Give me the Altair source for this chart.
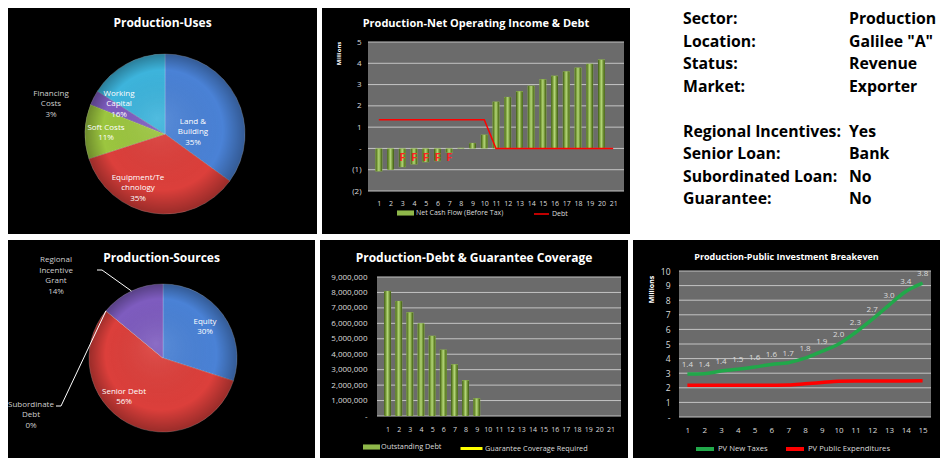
import math
import altair as alt
import pandas as pd

FONT = "Open Sans"
WHITE = "#ffffff"
PANEL = "#000000"
PLOT = "#6b6b6b"
GRID = "#c4c4c4"
TXT = "#dcdcdc"
GREEN_SOLID = "#8fb84a"

# ---------------- data ----------------
uses_names = ["Land & Building", "Equipment/Technology", "Soft Costs", "Financing Costs", "Working Capital"]
uses_labels = ["Land &\nBuilding", "Equipment/Te\nchnology", "Soft Costs", "Financing\nCosts", "Working\nCapital"]
uses_pct = [35, 35, 11, 3, 16]
uses_colors = ["#4a82d6", "#dc3f3b", "#9cc63f", "#7e5cbf", "#3db4dc"]

sources_names = ["Equity", "Senior Debt", "Subordinate Debt", "Regional Incentive Grant"]
sources_labels = ["Equity", "Senior Debt", "Subordinate\nDebt", "Regional\nIncentive\nGrant"]
sources_pct = [30, 56, 0, 14]
sources_colors = ["#4a82d6", "#dc3f3b", "#9cc63f", "#7e5cbf"]

years21 = list(range(1, 22))
net_cash_flow = [-1.08, -1.0, -0.88, -0.75, -0.65, -0.6, -0.2, 0.03, 0.26, 0.65,
                 2.2, 2.42, 2.69, 2.95, 3.25, 3.42, 3.62, 3.8, 3.98, 4.18, None]
debt_line = [1.35, 1.35, 1.35, 1.35, 1.35, 1.35, 1.35, 1.35, 1.35, 1.35,
             0, 0, 0, 0, 0, 0, 0, 0, 0, 0, 0]
cash_flow_flags = ["", "", "F", "F", "F", "F", "F", "", "", "", "",
                   "", "", "", "", "", "", "", "", "", ""]
ncf_ticks = [-2, -1, 0, 1, 2, 3, 4, 5]

outstanding_debt = [8100000, 7450000, 6720000, 6000000, 5200000, 4300000, 3350000, 2320000, 1150000,
                    0, 0, 0, 0, 0, 0, 0, 0, 0, 0, 0, 0]
guarantee_coverage = [None, None, None, None, None, None, None, None, None, None, None,
                      None, None, None, None, None, None, None, None, None, None]
debt_ticks = [0, 1000000, 2000000, 3000000, 4000000, 5000000, 6000000, 7000000, 8000000, 9000000]

years15 = list(range(1, 16))
pv_new_taxes = [2.95, 2.97, 3.15, 3.27, 3.42, 3.6, 3.72, 4.03, 4.5, 5.0, 5.79, 6.69, 7.66, 8.6, 9.17]
pv_public_exp = [2.17, 2.17, 2.17, 2.17, 2.17, 2.18, 2.19, 2.27, 2.36, 2.45, 2.47, 2.47, 2.47, 2.47, 2.48]
breakeven_labels = ["1.4", "1.4", "1.4", "1.5", "1.6", "1.6", "1.7", "1.8", "1.9", "2.0",
                    "2.3", "2.7", "3.0", "3.4", "3.8"]
breakeven_ticks = [0, 1, 2, 3, 4, 5, 6, 7, 8, 9, 10]

info_keys = ["Sector:", "Location:", "Status:", "Market:", "",
             "Regional Incentives:", "Senior Loan:", "Subordinated Loan:", "Guarantee:"]
info_values = ["Production", 'Galilee "A"', "Revenue", "Exporter", "",
               "Yes", "Bank", "No", "No"]

# ---------------- layout ----------------
H1, H2 = 226, 218
W_TL, W_TM, W_TR = 309, 308, 305
W_BL, W_BM, W_BR = 307, 308, 307
TITLE_SHIFT = 10

CYLINDER = alt.LinearGradient(
    gradient="linear", x1=0, y1=0, x2=1, y2=0,
    stops=[alt.GradientStop(offset=0, color="#3a5512"),
           alt.GradientStop(offset=0.3, color="#86aa45"),
           alt.GradientStop(offset=0.5, color="#b3d57a"),
           alt.GradientStop(offset=0.72, color="#7a9c3c"),
           alt.GradientStop(offset=1, color="#3a5512")])

VIEW = alt.ViewBackground(fill=PANEL, strokeWidth=0)


def panel_title(text, size, y):
    return alt.TitleParams(text=text, anchor="middle", frame="group", offset=-(y + TITLE_SHIFT),
                           baseline="middle", fontSize=size, fontWeight="bold", color=WHITE)


def x_axis(vals, off, fs, pad):
    return alt.Axis(values=vals, grid=False, domain=False, ticks=False, tickSize=0,
                    labelPadding=pad, labelFontSize=fs, labelColor=TXT, labelOverlap=False,
                    labelFlush=False, labelAngle=0, offset=-off, title=None)


def y_axis(vals, x0, fs, pad, expr, title=None, tx=0, ty=0, tfs=7):
    kw = dict(values=vals, grid=False, domain=False, ticks=False, tickSize=0,
              labelPadding=pad, labelFontSize=fs, labelColor=TXT, labelOverlap=False,
              labelExpr=expr, offset=-x0)
    if title:
        kw.update(title=title, titleX=tx, titleY=ty, titleAngle=270, titleAlign="center",
                  titleBaseline="middle", titleFontSize=tfs, titleFontWeight="bold",
                  titleColor=WHITE)
    else:
        kw["title"] = None
    return alt.Axis(**kw)


def frame_layers(px0, px1, py0, py1, ticks, ys, yax):
    bg = alt.Chart(pd.DataFrame({"k": [0]})).mark_rect(color=PLOT).encode(
        x=alt.value(px0), x2=alt.value(px1), y=alt.value(py0), y2=alt.value(py1))
    grid = alt.Chart(pd.DataFrame({"tick": ticks})).mark_rule(color=GRID, strokeWidth=1).encode(
        y=alt.Y("tick:Q", scale=ys, axis=yax), x=alt.value(px0), x2=alt.value(px1))
    return [bg, grid]


def legend(x, y, sym, size, sw, fs, offset=2, colpad=10):
    return alt.Legend(orient="none", legendX=x, legendY=y, direction="horizontal", title=None,
                      symbolType=sym, symbolSize=size, symbolStrokeWidth=sw,
                      labelFontSize=fs, labelColor=TXT, labelOffset=offset,
                      columnPadding=colpad, padding=0)


def pie_panel(names, labels, pct, colors, cx, cy, R, spec, leaders=None, lh=10.5):
    n = len(names)
    total = float(sum(pct))
    df = pd.DataFrame({"idx": list(range(n)), "name": names, "pct": pct,
                       "label": [f"{l}\n{p}%" for l, p in zip(labels, pct)]})
    tscale = alt.Scale(domain=[0, total], range=[0, 2 * math.pi])
    arcs = alt.Chart(df).mark_arc(radius=R, stroke=WHITE, strokeWidth=0.6, strokeOpacity=0.35).encode(
        theta=alt.Theta("pct:Q", stack=True, scale=tscale),
        order=alt.Order("idx:Q"),
        color=alt.Color("name:N", scale=alt.Scale(domain=names, range=colors), legend=None),
        x=alt.value(cx), y=alt.value(cy))
    shade = alt.Chart(pd.DataFrame({"k": [0]})).mark_arc(
        radius=R, theta=0, theta2=2 * math.pi,
        fill=alt.RadialGradient(gradient="radial", x1=0.45, y1=0.4, r1=0, x2=0.5, y2=0.5, r2=0.5,
                                stops=[alt.GradientStop(offset=0, color="rgba(255,255,255,0.10)"),
                                       alt.GradientStop(offset=0.75, color="rgba(0,0,0,0.0)"),
                                       alt.GradientStop(offset=1, color="rgba(0,0,0,0.30)")])
    ).encode(x=alt.value(cx), y=alt.value(cy))
    layers = [arcs, shade]
    cum = 0.0
    mids = {}
    for i, name in enumerate(names):
        mid = (cum + pct[i] / 2.0) / total * 2 * math.pi
        mids[name] = mid
        cum += pct[i]
        tx, ty, col = spec[name]
        nlines = df.loc[i, "label"].count("\n") + 1
        ty = ty - (nlines - 1) * lh / 2.0
        r = max(0.0, tx * math.sin(mid) - ty * math.cos(mid))
        dx = tx - r * math.sin(mid)
        dy = ty + r * math.cos(mid)
        t = (alt.Chart(df)
             .transform_window(cum="sum(pct)", sort=[alt.SortField("idx")])
             .transform_calculate(mid="datum.cum - datum.pct / 2")
             .transform_filter(alt.datum.idx == i)
             .mark_text(radius=r, dx=dx, dy=dy, fontSize=8, lineBreak="\n", lineHeight=lh,
                        color=col, align="center", baseline="middle")
             .encode(theta=alt.Theta("mid:Q", scale=tscale, stack=False), text="label:N",
                     x=alt.value(cx), y=alt.value(cy)))
        layers.append(t)
    if leaders:
        rows = []
        for k, (name, (lx, ly)) in enumerate(leaders.items()):
            m = mids[name]
            ex, ey = cx + R * math.sin(m), cy - R * math.cos(m)
            rows += [dict(lid=k, o=0, px=lx, py=ly), dict(lid=k, o=1, px=lx + 5, py=ly),
                     dict(lid=k, o=2, px=ex, py=ey)]
        lead = alt.Chart(pd.DataFrame(rows)).mark_line(color=WHITE, strokeWidth=1).encode(
            x=alt.X("px:Q", scale=None, axis=None), y=alt.Y("py:Q", scale=None, axis=None),
            detail="lid:N", order="o:Q")
        layers.append(lead)
    return alt.layer(*layers)


# ---------------- top-left: uses pie ----------------
uses_spec = {
    "Land & Building": (28, -2, WHITE),
    "Equipment/Technology": (-27, 54, WHITE),
    "Soft Costs": (-59, -1, WHITE),
    "Financing Costs": (-114, -30, "#cfcfcf"),
    "Working Capital": (-46, -30, WHITE),
}
tl = pie_panel(uses_names, uses_labels, uses_pct, uses_colors, 157, 126, 80, uses_spec).properties(
    width=W_TL, height=H1, view=VIEW, title=panel_title("Production-Uses", 12, 17))

# ---------------- top-middle: NOI & debt ----------------
TM_X0, TM_X1, TM_Y0, TM_Y1 = 46, 302, 34, 183
tm_df = pd.DataFrame({"year": years21, "ncf": net_cash_flow, "debt": debt_line, "flag": cash_flow_flags})
tm_xs = alt.Scale(domain=[0.5, 21.5], range=[TM_X0, TM_X1], nice=False, zero=False)
tm_ys = alt.Scale(domain=[-2, 5], range=[TM_Y1, TM_Y0], nice=False, zero=False)
tm_xax = x_axis(years21, H1 - TM_Y1, 7, 8)
tm_yax = y_axis(ncf_ticks, TM_X0, 8, 7,
                "datum.value < 0 ? '(' + abs(datum.value) + ')' : (datum.value == 0 ? '-' : datum.value)",
                "Millions", -30, 45, 6)
tmX = alt.X("year:Q", scale=tm_xs, axis=tm_xax)
tm_layers = frame_layers(TM_X0, TM_X1, TM_Y0, TM_Y1, ncf_ticks, tm_ys, tm_yax)
tm_bars_leg = alt.Chart(tm_df).transform_calculate(s="'Net Cash Flow (Before Tax)'").mark_bar(size=7).encode(
    x=tmX, y=alt.Y("ncf:Q", scale=tm_ys, axis=tm_yax),
    fill=alt.Fill("s:N", scale=alt.Scale(domain=["Net Cash Flow (Before Tax)"], range=[GREEN_SOLID]),
                  legend=legend(75, 196.5, "M-1,-0.3H1V0.3H-1Z", 289, 0, 7)))
tm_bars = alt.Chart(tm_df).mark_bar(size=7, fill=CYLINDER, cornerRadius=1.5).encode(
    x=tmX, y=alt.Y("ncf:Q", scale=tm_ys, axis=tm_yax))
tm_line = alt.Chart(tm_df).transform_calculate(s2="'Debt'").mark_line(strokeWidth=1.5).encode(
    x=tmX, y=alt.Y("debt:Q", scale=tm_ys, axis=tm_yax),
    stroke=alt.Stroke("s2:N", scale=alt.Scale(domain=["Debt"], range=["#ff0000"]),
                      legend=legend(211, 197.5, "stroke", 225, 1.5, 7)))
tm_flags = alt.Chart(tm_df).transform_filter("datum.flag != ''").mark_text(
    color="#ff2020", fontWeight="bold", fontSize=11, baseline="middle").encode(
    x=tmX, y=alt.YDatum(-0.45, scale=tm_ys, axis=tm_yax), text="flag:N")
tm = alt.layer(*tm_layers, tm_bars_leg, tm_bars, tm_line, tm_flags).properties(
    width=W_TM, height=H1, view=VIEW,
    title=panel_title("Production-Net Operating Income & Debt", 11, 17))

# ---------------- top-right: info text ----------------
info_df = pd.DataFrame({"row": list(range(len(info_keys))), "key": info_keys, "val": info_values})
info_y = alt.Y("row:Q", scale=alt.Scale(domain=[0, len(info_keys) - 1], range=[11, 191]), axis=None)
info_k = alt.Chart(info_df).mark_text(align="left", baseline="middle", fontSize=15.8,
                                      fontWeight="bold", color="#000000").encode(
    x=alt.value(48), y=info_y, text="key:N")
info_v = alt.Chart(info_df).mark_text(align="left", baseline="middle", fontSize=15.8,
                                      fontWeight="bold", color="#000000").encode(
    x=alt.value(214), y=info_y, text="val:N")
tr = alt.layer(info_k, info_v).properties(width=W_TR, height=H1)

# ---------------- bottom-left: sources pie ----------------
src_spec = {
    "Equity": (42, -31, WHITE),
    "Senior Debt": (-39, 39, WHITE),
    "Subordinate Debt": (-132, 57, "#cfcfcf"),
    "Regional Incentive Grant": (-107, -82, "#cfcfcf"),
}
src_leaders = {"Subordinate Debt": (48, 166), "Regional Incentive Grant": (89, 30)}
bl = pie_panel(sources_names, sources_labels, sources_pct, sources_colors, 155, 118, 74,
               src_spec, src_leaders).properties(
    width=W_BL, height=H2, view=VIEW, title=panel_title("Production-Sources", 12, 19.5))

# ---------------- bottom-middle: debt & guarantee ----------------
BM_X0, BM_X1, BM_Y0, BM_Y1 = 57, 301, 37, 176
bm_df = pd.DataFrame({"year": years21, "debt": outstanding_debt, "guar": guarantee_coverage})
bm_xs = alt.Scale(domain=[0.5, 21.5], range=[BM_X0, BM_X1], nice=False, zero=False)
bm_ys = alt.Scale(domain=[0, 9000000], range=[BM_Y1, BM_Y0], nice=False, zero=False)
bm_xax = x_axis(years21, H2 - BM_Y1, 7, 9)
bm_yax = y_axis(debt_ticks, BM_X0, 8, 10,
                "datum.value == 0 ? '-' : format(datum.value, ',')")
bmX = alt.X("year:Q", scale=bm_xs, axis=bm_xax)
bm_layers = frame_layers(BM_X0, BM_X1, BM_Y0, BM_Y1, debt_ticks, bm_ys, bm_yax)
bm_bars_leg = alt.Chart(bm_df).transform_calculate(s="'Outstanding Debt'").mark_bar(size=7).encode(
    x=bmX, y=alt.Y("debt:Q", scale=bm_ys, axis=bm_yax),
    fill=alt.Fill("s:N", scale=alt.Scale(domain=["Outstanding Debt"], range=[GREEN_SOLID]),
                  legend=legend(43, 198.5, "M-1,-0.3H1V0.3H-1Z", 289, 0, 7.3, 1)))
bm_bars = alt.Chart(bm_df).mark_bar(size=7, fill=CYLINDER, cornerRadius=1.5).encode(
    x=bmX, y=alt.Y("debt:Q", scale=bm_ys, axis=bm_yax))
bm_line = alt.Chart(bm_df).transform_calculate(s2="'Guarantee Coverage Required'").mark_line(
    strokeWidth=3).encode(
    x=bmX, y=alt.Y("guar:Q", scale=bm_ys, axis=bm_yax),
    stroke=alt.Stroke("s2:N", scale=alt.Scale(domain=["Guarantee Coverage Required"], range=["#ffff00"]),
                      legend=legend(139, 196, "stroke", 484, 3, 7.3, 1)))
bm = alt.layer(*bm_layers, bm_bars_leg, bm_bars, bm_line).properties(
    width=W_BM, height=H2, view=VIEW,
    title=panel_title("Production-Debt & Guarantee Coverage", 12, 19.5))

# ---------------- bottom-right: breakeven ----------------
BR_X0, BR_X1, BR_Y0, BR_Y1 = 46, 298, 31, 177
br_df = pd.DataFrame({"year": years15, "PV New Taxes": pv_new_taxes,
                      "PV Public Expenditures": pv_public_exp, "lab": breakeven_labels})
br_xs = alt.Scale(domain=[0.5, 15.5], range=[BR_X0, BR_X1], nice=False, zero=False)
br_ys = alt.Scale(domain=[0, 10], range=[BR_Y1, BR_Y0], nice=False, zero=False)
br_xax = x_axis(years15, H2 - BR_Y1, 8, 9)
br_yax = y_axis(breakeven_ticks, BR_X0, 8.5, 9,
                "datum.value == 0 ? '-' : datum.value", "Millions", -28, 49, 7)
brX = alt.X("year:Q", scale=br_xs, axis=br_xax)
br_layers = frame_layers(BR_X0, BR_X1, BR_Y0, BR_Y1, breakeven_ticks, br_ys, br_yax)
br_lines = alt.Chart(br_df).transform_fold(
    ["PV New Taxes", "PV Public Expenditures"], as_=["series", "val"]).mark_line(
    strokeWidth=3.5, interpolate="monotone").encode(
    x=brX, y=alt.Y("val:Q", scale=br_ys, axis=br_yax),
    stroke=alt.Stroke("series:N",
                      scale=alt.Scale(domain=["PV New Taxes", "PV Public Expenditures"],
                                      range=["#21a84a", "#ff0000"]),
                      legend=legend(61, 198, "stroke", 324, 4, 7.7, 2, 10)))
br_text = alt.Chart(br_df).mark_text(dy=-9, fontSize=8, color=TXT, baseline="middle").encode(
    x=brX, y=alt.Y("PV New Taxes:Q", scale=br_ys, axis=br_yax), text="lab:N")
br = alt.layer(*br_layers, br_lines, br_text).properties(
    width=W_BR, height=H2, view=VIEW,
    title=panel_title("Production-Public Investment Breakeven", 9, 16))

IND = dict(color="independent", fill="independent", stroke="independent", theta="independent")
LEG = dict(color="independent", fill="independent", stroke="independent")
row1 = alt.hconcat(tl, tm, tr, spacing=5, bounds="flush").resolve_scale(**IND).resolve_legend(**LEG)
row2 = alt.hconcat(bl, bm, br, spacing=5, bounds="flush").resolve_scale(**IND).resolve_legend(**LEG)
chart = alt.vconcat(row1, row2, spacing=6).resolve_scale(**IND).resolve_legend(**LEG).properties(
    padding=0, background=WHITE).configure(font=FONT).configure_view(strokeWidth=0)

chart.save("out.html", embed_options={"renderer": "svg", "actions": False})
